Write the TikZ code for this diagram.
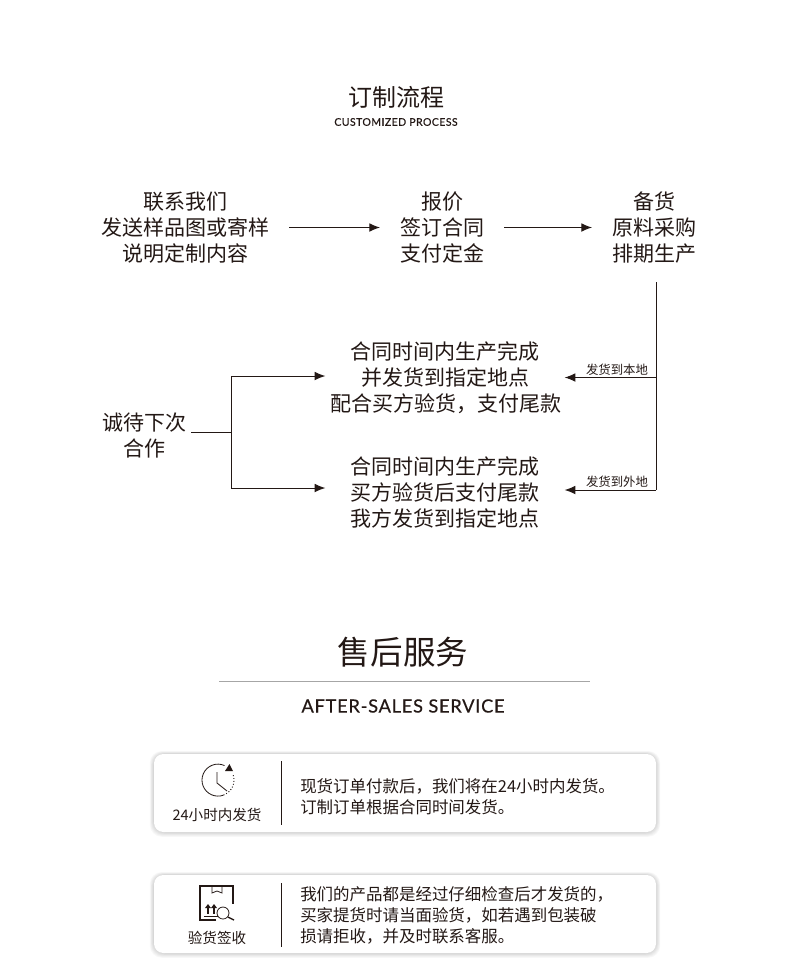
\documentclass[tikz,border=0pt]{standalone}
\usepackage{fontspec}
\usepackage{xcolor}
\setmainfont{Noto Sans CJK SC}
\newfontfamily\latinfont[LetterSpace=4,FakeBold=0.35]{Lato}
\usetikzlibrary{arrows.meta}
\definecolor{inkcolor}{HTML}{231815}
\tikzset{
    stepbox/.style={inner sep=0pt, outer xsep=15pt, align=center, text=inkcolor, font=\fontsize{15.75}{19.5}\selectfont},
    delivbox/.style={stepbox, text width=172pt, outer xsep=3.75pt},
    routelabel/.style={inner sep=0pt, text=inkcolor, font=\fontsize{9.3}{11}\selectfont},
    cardbox/.style={draw=none, fill=white, rounded corners=7pt, minimum width=376.5pt, minimum height=58.5pt, inner sep=0pt},
    cardtext/.style={anchor=west, inner sep=0pt, align=left, text=inkcolor, font=\fontsize{12.35}{15.75}\selectfont},
    cardcaption/.style={inner sep=0pt, text=inkcolor, font=\fontsize{10.9}{13}\selectfont},
    flow/.style={draw=inkcolor, line width=0.7pt, -{Latex[length=8pt,width=6.5pt]}},
    trunk/.style={draw=inkcolor, line width=0.7pt},
    iconline/.style={draw=inkcolor, line width=0.6pt}
}
\begin{document}
\begin{tikzpicture}[x=0.75pt, y=-0.75pt]
    \useasboundingbox (0,0) rectangle (790,979);
    \fill[white] (0,0) rectangle (790,979);

    % process heading
    \node[inner sep=0pt, text=inkcolor, font=\fontsize{18}{22}\selectfont] (title) at (396,97) {订制流程};
    \node[inner sep=0pt, text=inkcolor, font=\latinfont\fontsize{7.9}{9}\selectfont] (subtitle) at (396,122) {CUSTOMIZED PROCESS};

    % top row
    \node[stepbox] (contact) at (185,228) {联系我们\\发送样品图或寄样\\说明定制内容};
    \node[stepbox] (quote) at (442,228) {报价\\签订合同\\支付定金};
    \node[stepbox] (stock) at (654,228) {备货\\原料采购\\排期生产};
    \draw[flow] (contact.east |- 0,227.5) -- (quote.west |- 0,227.5);
    \draw[flow] (quote.east |- 0,227.5) -- (stock.west |- 0,227.5);

    % two delivery cases
    \node[delivbox] (local) at (445,378) {合同时间内生产完成\\并发货到指定地点\\配合买方验货，支付尾款};
    \node[delivbox] (remote) at (445,492.5) {合同时间内生产完成\\买方验货后支付尾款\\我方发货到指定地点};
    \node[stepbox, outer xsep=3.75pt] (next) at (144,436) {诚待下次\\合作};

    \coordinate (trunktop) at (656,282);
    \coordinate (trunklocal) at (656,377.5);
    \coordinate (trunkremote) at (656,490);
    \draw[trunk] (trunktop) -- (trunkremote);
    \draw[flow] (trunklocal) -- (trunklocal -| local.east);
    \draw[flow] (trunkremote) -- (trunkremote -| remote.east);
    \node[routelabel] (labellocal) at (617,370) {发货到本地};
    \node[routelabel] (labelremote) at (617,482) {发货到外地};

    \coordinate (fork) at (231,432);
    \coordinate (forklocal) at (231,376);
    \coordinate (forkremote) at (231,488);
    \draw[trunk] (next.east |- fork) -- (fork);
    \draw[trunk] (forklocal) -- (forkremote);
    \draw[flow] (forklocal) -- (forklocal -| local.west);
    \draw[flow] (forkremote) -- (forkremote -| remote.west);

    % service heading
    \node[inner sep=0pt, text=inkcolor, font=\fontsize{24.4}{30}\selectfont] (service) at (403,652) {售后服务};
    \draw[gray!70, line width=0.5pt] (219,681) -- (590,681);
    \node[inner sep=0pt, text=inkcolor, font=\latinfont\fontsize{13.7}{16}\selectfont] (serviceen) at (403,706) {AFTER-SALES SERVICE};

    % cards with soft edge
    \foreach \cy in {793,914}{
        \foreach \grow in {6,5,4,3,2,1}{
            \fill[black, opacity=0.028, rounded corners=9pt] (154-\grow*0.7,\cy-39-\grow*0.5) rectangle (656+\grow*0.7,\cy+39+\grow*0.8);
        }
    }
    \node[cardbox] (cardship) at (405,793) {};
    \node[cardbox] (cardcheck) at (405,914) {};
    \draw[inkcolor, line width=0.7pt] (281,761) -- (281,825);
    \draw[inkcolor, line width=0.7pt] (281,883) -- (281,947);

    \node[cardcaption] (captionship) at (217,814.5) {24小时内发货};
    \node[cardcaption] (captioncheck) at (217,937.5) {验货签收};
    \node[cardtext] (textship) at (300,796.5) {现货订单付款后，我们将在24小时内发货。\\订制订单根据合同时间发货。};
    \node[cardtext] (textcheck) at (300,915.5) {我们的产品都是经过仔细检查后才发货的，\\买家提货时请当面验货，如若遇到包装破\\损请拒收，并及时联系客服。};

    % clock icon
    \draw[iconline] (224.5,765.5) arc[start angle=-66, end angle=-290, radius=16];
    \draw[iconline, line width=0.7pt, dash pattern=on 0.7pt off 1.5pt] (223.5,795) arc[start angle=70, end angle=-20, radius=16];
    \fill[inkcolor] (229.5,764) -- (233,771) -- (225,771) -- cycle;
    \draw[iconline] (217,772) -- (217,783) -- (227,791);

    % box icon
    \draw[iconline, line width=0.8pt] (216,920) -- (200,920) -- (200,886) -- (233,886) -- (233,904);
    \draw[iconline] (212,886) -- (212,893) -- (217,891) -- (222,893) -- (222,886);
    \fill[inkcolor] (205,908) -- (208,904) -- (211,908) -- cycle;
    \fill[inkcolor] (211,908) -- (214,904) -- (217,908) -- cycle;
    \draw[inkcolor, line width=1pt] (208,908) -- (208,914) (214,908) -- (214,914);
    \draw[inkcolor, line width=0.6pt] (204,916) -- (218,916);
    \draw[iconline] (223,913) circle (6);
    \draw[iconline, line width=1pt] (228,917) -- (234,920);
\end{tikzpicture}
\end{document}
